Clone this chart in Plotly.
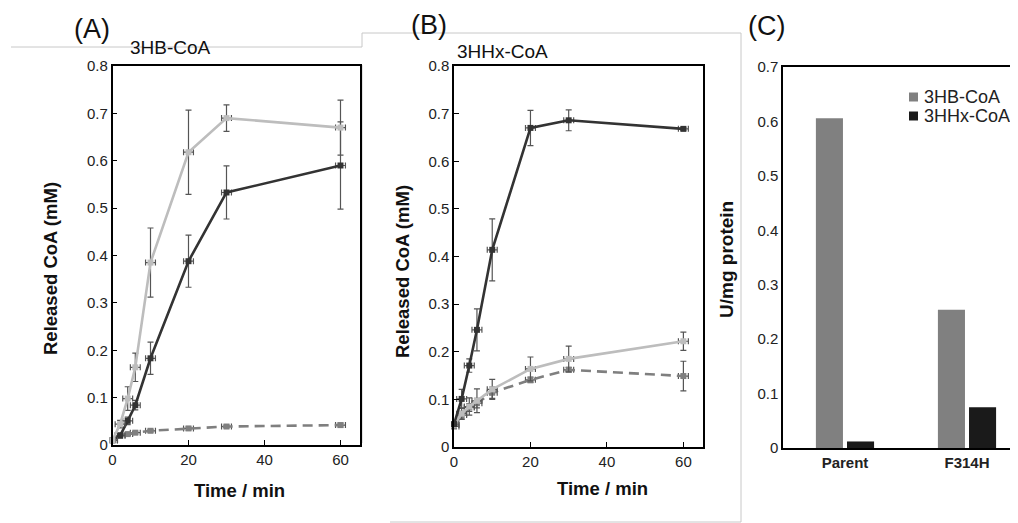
import plotly.graph_objects as go

# The page body adds an 8px margin, so the figure is 1010x515 and all
# reference pixel positions are shifted by 8px.
OFF = 8
W, H = 1018 - OFF, 523 - OFF
FONT = "Liberation Sans, Arial, sans-serif"

# ---- Panel A data (3HB-CoA) ----
time_a = [0, 2, 4, 6, 10, 20, 30, 60]
a_light = [0.010, 0.044, 0.098, 0.164, 0.385, 0.618, 0.690, 0.670]
a_light_err = [0.004, 0.008, 0.025, 0.030, 0.073, 0.089, 0.028, 0.058]
a_dark = [0.010, 0.020, 0.051, 0.084, 0.183, 0.388, 0.533, 0.590]
a_dark_err = [0.003, 0.005, 0.008, 0.010, 0.034, 0.055, 0.056, 0.092]
a_dash = [0.010, 0.020, 0.023, 0.026, 0.030, 0.035, 0.039, 0.042]
a_dash_err = [0.003, 0.003, 0.003, 0.003, 0.003, 0.003, 0.003, 0.004]

# ---- Panel B data (3HHx-CoA) ----
time_b = [0, 2, 4, 6, 10, 20, 30, 60]
b_dark = [0.048, 0.101, 0.171, 0.246, 0.414, 0.670, 0.686, 0.668]
b_dark_err = [0.005, 0.020, 0.014, 0.044, 0.065, 0.037, 0.022, 0.003]
b_light = [0.046, 0.070, 0.085, 0.097, 0.121, 0.164, 0.185, 0.222]
b_light_err = [0.005, 0.012, 0.018, 0.025, 0.021, 0.025, 0.027, 0.019]
b_dash = [0.043, 0.067, 0.083, 0.092, 0.114, 0.141, 0.162, 0.149]
b_dash_err = [0.004, 0.008, 0.008, 0.010, 0.012, 0.006, 0.005, 0.031]

# ---- Panel C data ----
variants = ["Parent", "F314H"]
c_3hb = [0.606, 0.254]
c_3hhx = [0.012, 0.075]
c_names = ["3HB-CoA", "3HHx-CoA"]
c_colors = ["#808080", "#1a1a1a"]

LIGHT = "#bdbdbd"
DARK = "#333333"
MID = "#7f7f7f"
ERR = "#555555"

fig = go.Figure()


def px_x(p):
    return (p - OFF) / W


def px_y(p):
    return 1 - (p - OFF) / H


def add_series(xa, ya, t, v, e, color, dash, symbol):
    fig.add_trace(go.Scatter(
        x=t, y=v, xaxis=xa, yaxis=ya, mode="lines+markers",
        line=dict(color=color, width=2.6, dash=dash),
        marker=dict(color=color, size=6, symbol=symbol),
        error_y=dict(type="data", array=e, visible=True, color=ERR, thickness=1.2, width=3),
        error_x=dict(type="constant", value=1.3, visible=True, color=ERR, thickness=1.2, width=3),
        showlegend=False, cliponaxis=False))


DASH = "10px,6px"
add_series("x", "y", time_a, a_dash, a_dash_err, MID, DASH, "square")
add_series("x", "y", time_a, a_dark, a_dark_err, DARK, "solid", "square")
add_series("x", "y", time_a, a_light, a_light_err, LIGHT, "solid", "square")

add_series("x2", "y2", time_b, b_dash, b_dash_err, MID, DASH, "square")
add_series("x2", "y2", time_b, b_light, b_light_err, LIGHT, "solid", "square")
add_series("x2", "y2", time_b, b_dark, b_dark_err, DARK, "solid", "square")

for name, vals, col in zip(c_names, [c_3hb, c_3hhx], c_colors):
    fig.add_trace(go.Bar(x=variants, y=vals, name=name, marker=dict(color=col, line=dict(width=0)),
                         xaxis="x3", yaxis="y3", showlegend=False))

tickfont = dict(family=FONT, size=15, color="#222222")
line_axis = dict(showline=True, linecolor="black", linewidth=1.5, mirror=True,
                 ticks="inside", ticklen=5, tickcolor="black", tickwidth=1.2,
                 showgrid=False, zeroline=False, tickfont=tickfont, automargin=False)

fig.update_layout(
    template="none",
    width=W, height=H,
    margin=dict(l=0, r=0, t=0, b=0, pad=0),
    paper_bgcolor="white", plot_bgcolor="white",
    font=dict(family=FONT, color="#222222"),
    barmode="group", bargap=0.49, bargroupgap=0.13,
    showlegend=False,
    xaxis=dict(domain=[px_x(112.5), px_x(359.5)], range=[0, 65], tickvals=[0, 20, 40, 60],
               anchor="y", **line_axis),
    yaxis=dict(domain=[px_y(445), px_y(66)], range=[0, 0.8], dtick=0.1, anchor="x", **line_axis),
    xaxis2=dict(domain=[px_x(454), px_x(702.5)], range=[0, 65], tickvals=[0, 20, 40, 60],
                anchor="y2", **line_axis),
    yaxis2=dict(domain=[px_y(447), px_y(66)], range=[0, 0.8], dtick=0.1, anchor="x2", **line_axis),
    xaxis3=dict(domain=[px_x(783), 1], range=[-0.508, 1.418], anchor="y3", automargin=False,
                showline=True, linecolor="black", linewidth=1.5, mirror=True, ticks="",
                showgrid=False, tickfont=dict(family=FONT, size=15, color="#222222", weight="bold")),
    yaxis3=dict(domain=[px_y(448), px_y(67)], range=[0, 0.7], dtick=0.1, anchor="x3", automargin=False,
                showline=True, linecolor="black", linewidth=1.5, ticks="", showgrid=False,
                zeroline=False, tickfont=tickfont),
)

anns = [
    dict(text="(A)", x=92, y=29, size=27, bold=False, angle=0),
    dict(text="(B)", x=429, y=25, size=27, bold=False, angle=0),
    dict(text="(C)", x=766, y=26, size=27, bold=False, angle=0),
    dict(text="3HB-CoA", x=170, y=48, size=19, bold=False, angle=0),
    dict(text="3HHx-CoA", x=502, y=52, size=19, bold=False, angle=0),
    dict(text="Released CoA (mM)", x=50, y=269, size=18.5, bold=True, angle=-90),
    dict(text="Released CoA (mM)", x=402, y=272, size=18.5, bold=True, angle=-90),
    dict(text="U/mg protein", x=727, y=260, size=19, bold=True, angle=-90),
    dict(text="Time / min", x=239, y=490, size=18.5, bold=True, angle=0),
    dict(text="Time / min", x=602, y=488, size=18.5, bold=True, angle=0),
]
for a in anns:
    fig.add_annotation(
        text=a["text"], x=px_x(a["x"]), y=px_y(a["y"]), xref="paper", yref="paper",
        xanchor="center", yanchor="middle", showarrow=False, textangle=a["angle"],
        font=dict(family=FONT, size=a["size"], color="#111111",
                  weight="bold" if a["bold"] else "normal"))

# legend of panel C (compact, as in the original)
leg_rows = [97, 116]
for name, col, yc in zip(c_names, c_colors, leg_rows):
    fig.add_shape(type="rect", xref="paper", yref="paper",
                  x0=px_x(909), x1=px_x(918), y0=px_y(yc - 4.5), y1=px_y(yc + 4.5),
                  fillcolor=col, line=dict(width=0))
    fig.add_annotation(text=name, x=px_x(922), y=px_y(yc), xref="paper", yref="paper",
                       xanchor="left", yanchor="middle", showarrow=False,
                       font=dict(family=FONT, size=18, color="#222222"))

# decorative light-gray frame lines from the original layout
frame_lines = [
    (11, 47, 362, 47), (362, 47, 362, 33), (362, 33, 741, 33),
    (741, 33, 741, 522), (390, 522, 741, 522), (362, 65, 362, 443),
]
for x0, y0, x1, y1 in frame_lines:
    fig.add_shape(type="line", xref="paper", yref="paper",
                  x0=px_x(x0), y0=px_y(y0), x1=px_x(x1), y1=px_y(y1),
                  line=dict(color="#c8c8c8", width=1), layer="below")

fig.write_html("out.html")
